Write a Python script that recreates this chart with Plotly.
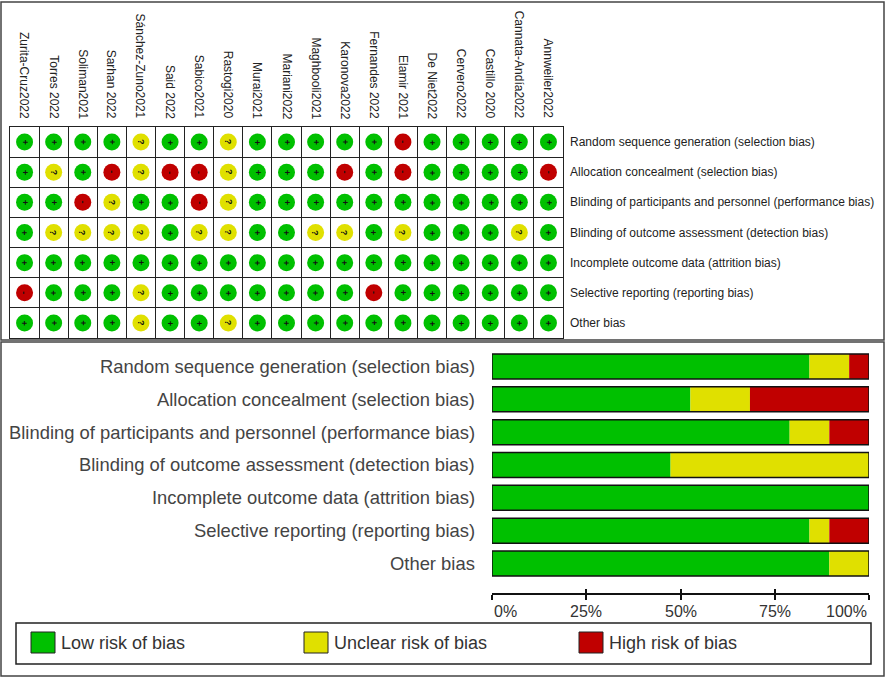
import plotly.graph_objects as go

W, H = 886, 678

studies = ["Zurita-Cruz2022", "Torres 2022", "Soliman2021", "Sarhan 2022",
           "Sánchez-Zuno2021", "Said 2022", "Sabico2021", "Rastogi2020",
           "Murai2021", "Mariani2022", "Maghbooli2021", "Karonova2022",
           "Fernandes 2022", "Elamir 2021", "De Niet2022", "Cervero2022",
           "Castillo 2020", "Cannata-Andía2022", "Annweiler2022"]

domains = ["Random sequence generation (selection bias)",
           "Allocation concealment (selection bias)",
           "Blinding of participants and personnel (performance bias)",
           "Blinding of outcome assessment (detection bias)",
           "Incomplete outcome data (attrition bias)",
           "Selective reporting (reporting bias)",
           "Other bias"]

# judgement per domain, one letter per study (L low, U unclear, H high)
random_seq   = "LLLLULLULLLLLHLLLLL"
allocation   = "LULHUHHULLLHLHLLLLH"
blind_part   = "LLHULLHULLLLLLLLLLL"
blind_out    = "LUUUULUULLUULULLLUL"
incomplete   = "LLLLLLLLLLLLLLLLLLL"
selective    = "HLLLULLLLLLLHLLLLLL"
other        = "LLLLULLULLLLLLLLLLL"
judgements = [random_seq, allocation, blind_part, blind_out,
              incomplete, selective, other]

pct_ticks = [0, 25, 50, 75, 100]
pct_labels = ["0%", "25%", "50%", "75%", "100%"]

colors = {"L": "#00C000", "U": "#E0E000", "H": "#C00000"}
signs = {"L": "+", "U": "?", "H": "-"}
names = {"L": "Low risk of bias", "U": "Unclear risk of bias", "H": "High risk of bias"}


def px_x(p):
    return p / W


def px_y(p):
    return 1 - p / H


fig = go.Figure()

# traffic-light grid
gx, gy, gc = [], [], []
for r, row in enumerate(judgements):
    for c, j in enumerate(row):
        gx.append(c)
        gy.append(r)
        gc.append(colors[j])

fig.add_trace(go.Scatter(
    x=gx, y=gy, mode="markers",
    marker=dict(size=17, color=gc, line=dict(width=0)),
    xaxis="x", yaxis="y", showlegend=False, hoverinfo="skip"))

# summary bars (stacked low / unclear / high)
n = len(studies)
base = [0.0] * len(domains)
for k in ["L", "U", "H"]:
    pct = [100 * row.count(k) / n for row in judgements]
    fig.add_trace(go.Bar(
        x=pct, y=list(range(len(domains))), base=base, orientation="h",
        marker=dict(color=colors[k], line=dict(width=0)),
        width=0.76, name=names[k], showlegend=False,
        xaxis="x2", yaxis="y2", hoverinfo="skip"))
    base = [b + p for b, p in zip(base, pct)]

# bar outlines
fig.add_trace(go.Bar(
    x=[100] * len(domains), y=list(range(len(domains))), base=0, orientation="h",
    marker=dict(color="rgba(0,0,0,0)", line=dict(color="#111", width=1.5)),
    width=0.76, showlegend=False, xaxis="x2", yaxis="y2", hoverinfo="skip"))

# second copy of the percent axis so ticks cross the axis line
fig.add_trace(go.Scatter(x=[0, 100], y=[0, 0], mode="markers",
                         marker=dict(opacity=0), xaxis="x3", yaxis="y2",
                         showlegend=False, hoverinfo="skip"))

fig.update_layout(
    width=W, height=H, margin=dict(l=0, r=0, t=0, b=0),
    paper_bgcolor="white", plot_bgcolor="white",
    barmode="overlay",
    font=dict(family="Liberation Sans", color="#333"),
    xaxis=dict(domain=[px_x(10), px_x(563)], range=[-0.5, n - 0.5],
               tickvals=[i - 0.5 for i in range(n + 1)], showticklabels=False,
               showgrid=True, gridcolor="#222", gridwidth=1, zeroline=False,
               showline=True, linecolor="#222", mirror=True, ticks=""),
    yaxis=dict(domain=[px_y(338), px_y(127)], range=[len(domains) - 0.5, -0.5],
               tickvals=[i - 0.5 for i in range(len(domains) + 1)], showticklabels=False,
               showgrid=True, gridcolor="#222", gridwidth=1, zeroline=False,
               showline=True, linecolor="#222", mirror=True, ticks=""),
    xaxis2=dict(domain=[px_x(492), px_x(869)], range=[0, 100],
                anchor="free", position=px_y(594),
                tickvals=pct_ticks, showticklabels=False,
                ticks="outside", ticklen=5, tickcolor="#111", tickwidth=1.5,
                showline=True, linecolor="#111", linewidth=1.5,
                showgrid=False, zeroline=False),
    xaxis3=dict(domain=[px_x(492), px_x(869)], range=[0, 100],
                anchor="free", position=px_y(594), overlaying="x2",
                tickvals=pct_ticks, showticklabels=False,
                ticks="inside", ticklen=5, tickcolor="#111", tickwidth=1.5,
                showline=False, showgrid=False, zeroline=False),
    yaxis2=dict(domain=[px_y(580), px_y(350)], range=[len(domains) - 0.5, -0.5],
                anchor="x2", showticklabels=False, showgrid=False,
                zeroline=False, showline=False),
)

ann = []
for c, s in enumerate(studies):
    ann.append(dict(x=c, y=px_y(121), xref="x", yref="paper", text=s,
                    textangle=90, showarrow=False, xanchor="center", yanchor="bottom",
                    font=dict(size=12, color="#222")))
for r, row in enumerate(judgements):
    for c, j in enumerate(row):
        ann.append(dict(x=c, y=r, xref="x", yref="y", text="<b>%s</b>" % signs[j],
                        textangle=90, showarrow=False, xanchor="center", yanchor="middle",
                        font=dict(size=9, color="#111")))
for r, d in enumerate(domains):
    ann.append(dict(x=px_x(568), y=r, xref="paper", yref="y", text=d,
                    showarrow=False, xanchor="left", yanchor="middle",
                    font=dict(size=12, color="#222")))
    ann.append(dict(x=px_x(477), y=r, xref="paper", yref="y2", text=d,
                    showarrow=False, xanchor="right", yanchor="middle",
                    font=dict(size=18.4, color="#444")))
for v, t in zip(pct_ticks, pct_labels):
    anchor = "left" if v == 0 else ("right" if v == 100 else "center")
    ann.append(dict(x=v, y=px_y(601), xref="x2", yref="paper", text=t,
                    showarrow=False, xanchor=anchor, yanchor="top",
                    font=dict(size=16, color="#333")))

shapes = [
    dict(type="rect", xref="paper", yref="paper", x0=px_x(1), x1=px_x(884),
         y0=px_y(340), y1=px_y(2), line=dict(color="#444", width=1.5)),
    dict(type="rect", xref="paper", yref="paper", x0=px_x(1), x1=px_x(884),
         y0=px_y(676), y1=px_y(342), line=dict(color="#444", width=1.5)),
    dict(type="rect", xref="paper", yref="paper", x0=px_x(16), x1=px_x(871),
         y0=px_y(664), y1=px_y(623), line=dict(color="#222", width=1.5)),
]

legend_pos = [("L", 31), ("U", 304), ("H", 579)]
for k, x0 in legend_pos:
    shapes.append(dict(type="rect", xref="paper", yref="paper",
                       x0=px_x(x0), x1=px_x(x0 + 24), y0=px_y(653), y1=px_y(632),
                       fillcolor=colors[k], line=dict(color="#222", width=1)))
    ann.append(dict(x=px_x(x0 + 28), y=px_y(643), xref="paper", yref="paper",
                    text=names[k], showarrow=False, xanchor="left", yanchor="middle",
                    font=dict(size=18, color="#333")))

fig.update_layout(annotations=ann, shapes=shapes)

fig.write_html("out.html", config={"displayModeBar": False},
               post_script="document.body.style.margin='0';"
                           "document.body.style.overflow='hidden';")
